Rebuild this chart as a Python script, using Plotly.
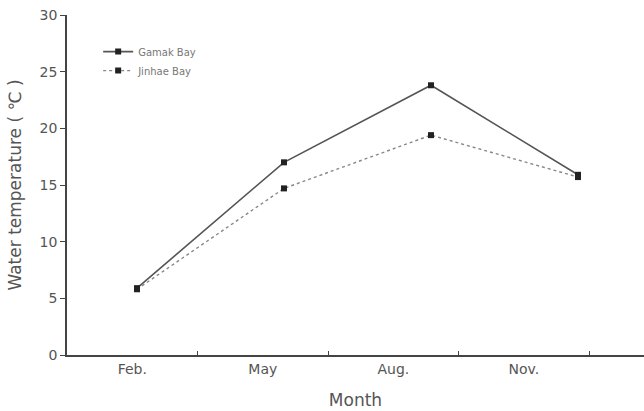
import plotly.graph_objects as go

months = ["Feb.", "May", "Aug.", "Nov."]
month_pos = [1, 2, 3, 4]
gamak = [5.9, 17.0, 23.8, 15.9]
jinhae = [5.8, 14.7, 19.4, 15.7]
yticks = [0, 5, 10, 15, 20, 25, 30]

font = "DejaVu Sans, sans-serif"
fig = go.Figure()
fig.add_trace(go.Scatter(x=month_pos, y=gamak, name="Gamak Bay", mode="lines+markers",
                         line=dict(color="#555555", width=1.6, dash="solid"),
                         marker=dict(symbol="square", size=6, color="#222222")))
fig.add_trace(go.Scatter(x=month_pos, y=jinhae, name="Jinhae Bay", mode="lines+markers",
                         line=dict(color="#888888", width=1.4, dash="dot"),
                         marker=dict(symbol="square", size=6, color="#222222")))
# category label axis (labels centred in bands, ticks at band boundaries)
fig.add_trace(go.Scatter(x=months, y=[None]*4, xaxis="x2", showlegend=False, hoverinfo="skip"))

fig.update_layout(
    width=644, height=411,
    margin=dict(l=67, r=0, t=15, b=56),
    plot_bgcolor="white", paper_bgcolor="white",
    font=dict(family=font, color="#555555", size=13),
    showlegend=True,
    legend=dict(x=0.054, y=0.935, xanchor="left", yanchor="top", bgcolor="rgba(0,0,0,0)",
                font=dict(size=10, color="#777777"), tracegroupgap=0, itemwidth=30),
    xaxis=dict(range=[0.524, 4.449], showticklabels=False, ticks="", showgrid=False,
               zeroline=False, showline=False, automargin=False),
    xaxis2=dict(overlaying="x", side="bottom", type="category", range=[-0.5, 3.92],
                tickson="boundaries", ticks="inside", ticklen=4, tickcolor="#444",
                showline=True, linecolor="#444444", linewidth=1.5, showgrid=False,
                automargin=False,
                tickfont=dict(size=14, color="#555555"),
                title=dict(text="Month", font=dict(size=17, color="#555555"), standoff=19)),
    yaxis=dict(range=[0, 30], tickvals=yticks, ticks="outside", ticklen=5, tickcolor="#444",
               showline=True, linecolor="#444444", linewidth=1.5, showgrid=False, zeroline=False,
               automargin=False,
               tickfont=dict(size=14, color="#555555"),
               title=dict(text="Water temperature ( ℃ )", font=dict(size=17, color="#555555"), standoff=14)),
)
fig.write_html("out.html", config={"displayModeBar": False},
               post_script="document.body.style.margin='0';document.body.style.overflow='hidden';")
